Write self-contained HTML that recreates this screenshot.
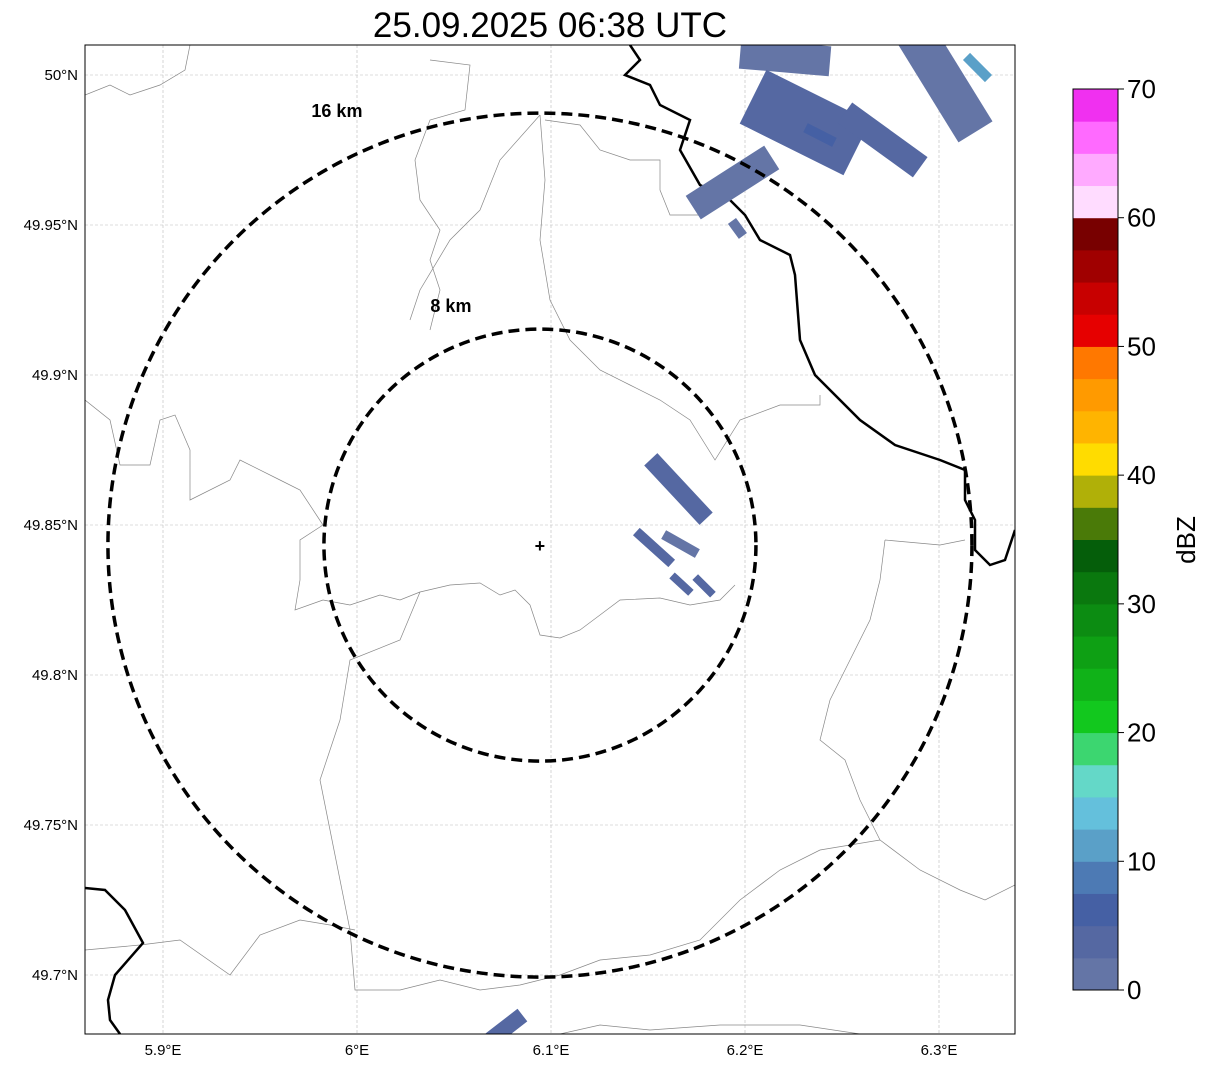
<!DOCTYPE html>
<html><head><meta charset="utf-8"><style>
body{margin:0;background:#fff;font-family:"Liberation Sans",sans-serif}
svg{display:block}
</style></head><body>
<svg id="chart" width="1207" height="1069" viewBox="0 0 1207 1069" xmlns="http://www.w3.org/2000/svg">
<rect width="1207" height="1069" fill="#fff"/>
<text x="550" y="37" font-size="35" text-anchor="middle">25.09.2025 06:38 UTC</text>
<defs><clipPath id="pc"><rect x="85" y="45" width="930" height="989"/></clipPath></defs>
<g id="grid"></g>
<g id="geo" clip-path="url(#pc)">
<polyline fill="none" stroke="#888" stroke-width="0.7" points="323,600 350,605 380,595 400,600 420,592 450,585 480,583 500,595 515,590 530,605 540,635 560,638 580,630 600,615 620,600 660,598 690,605 720,600 735,585"/>
<polyline fill="none" stroke="#888" stroke-width="0.7" points="540,115 545,180 540,240 550,300 570,340 600,370 630,385 660,400 690,420 715,460 740,420 780,405 820,405 820,395"/>
<polyline fill="none" stroke="#888" stroke-width="0.7" points="85,400 110,420 120,465 150,465 160,420 175,415 190,450 190,500 230,480 240,460 280,480 300,490 323,525"/>
<polyline fill="none" stroke="#888" stroke-width="0.7" points="323,525 300,540 300,580 295,610 323,600"/>
<polyline fill="none" stroke="#888" stroke-width="0.7" points="420,592 400,640 350,660 340,720 320,780 330,830 340,880 350,930 355,990 400,990 440,980 480,990 520,985 560,975 600,960 650,955 700,940 740,900 780,870 820,850 880,840 920,870 960,890 985,900 1015,885"/>
<polyline fill="none" stroke="#888" stroke-width="0.7" points="85,95 110,85 130,95 160,85 185,70 190,45"/>
<polyline fill="none" stroke="#888" stroke-width="0.7" points="430,60 470,65 465,110 430,120 415,160 420,200 440,230 430,260 440,290 430,330"/>
<polyline fill="none" stroke="#888" stroke-width="0.7" points="540,115 500,160 480,210 450,240 420,290 410,320"/>
<polyline fill="none" stroke="#888" stroke-width="0.7" points="85,950 140,945 180,940 230,975 260,935 300,920 330,925 355,930"/>
<polyline fill="none" stroke="#888" stroke-width="0.7" points="560,1034 600,1025 650,1030 720,1025 800,1025 860,1034"/>
<polyline fill="none" stroke="#888" stroke-width="0.7" points="885,540 880,580 870,620 850,660 830,700 820,740 845,760 860,800 880,840"/>
<polyline fill="none" stroke="#888" stroke-width="0.7" points="885,540 940,545 965,540"/>
<polyline fill="none" stroke="#888" stroke-width="0.7" points="545,120 580,125 600,150 630,160 660,160 660,190 670,215 700,215"/>
<polyline fill="none" stroke="#000" stroke-width="2.5" points="630,45 640,60 625,75 650,85 660,105 690,120 680,150 700,185 730,200 745,215 760,240 790,255 795,275 800,340 815,375 860,420 895,445 940,460 965,470 965,500 975,520 975,550 990,565 1005,560 1015,530"/>
<polyline fill="none" stroke="#000" stroke-width="2.5" points="85,888 105,890 125,910 143,943 115,975 108,1000 110,1020 120,1034"/>
</g>
<g id="echo" clip-path="url(#pc)"></g>
<g id="rings"></g>
<rect x="85" y="45" width="930" height="989" fill="none" stroke="#000" stroke-width="1"/>
<g id="axes"></g>
<g id="cbar"></g>
<text x="1195" y="540" font-size="26" text-anchor="middle" transform="rotate(-90 1195 540)">dBZ</text>
</svg>
<script>
const lonTicks=[5.9,6.0,6.1,6.2,6.3];
const lonLabels=["5.9°E","6°E","6.1°E","6.2°E","6.3°E"];
const latTicks=[50,49.95,49.9,49.85,49.8,49.75,49.7];
const latLabels=["50°N","49.95°N","49.9°N","49.85°N","49.8°N","49.75°N","49.7°N"];
const cbarColors=["#6475a6","#5568a2","#4560a4","#4d7ab4","#5aa0c8","#64c0dc","#64d8c8","#3cd670","#12c81e","#10b218","#0ea014","#0c8c12","#0a780e","#055e0a","#4a7a08","#b0b008","#ffdc00","#ffb400","#ff9a00","#ff7800","#e60000","#c80000","#a00000","#780000","#ffdcff","#ffaaff","#ff6aff","#f030f0"];
const cbarTicks=[0,10,20,30,40,50,60,70];
const ringKm=[8,16];
const center=[6.0943,49.8433];
// echo segments: lon1,lat1,lon2,lat2,width(px),dBZ
const echoLon1=[6.1546,6.1459,6.1603,6.1639,6.1758,6.2052,6.2180,6.2567,6.2077,6.1948,6.2928,6.3160,6.2335,6.0700];
const echoLat1=[49.8697,49.8467,49.8460,49.8323,49.8317,50.0067,49.9883,49.9850,49.9700,49.9500,50.0083,50.0050,49.9817,49.6790];
const echoLon2=[6.1768,6.1603,6.1732,6.1706,6.1820,6.2361,6.2438,6.2851,6.1794,6.1974,6.3134,6.3237,6.2438,6.0820];
const echoLat2=[49.8543,49.8383,49.8413,49.8283,49.8277,50.0050,49.9800,49.9717,49.9583,49.9477,49.9867,50.0000,49.9783,49.6850];
const echoW=[18,10,10,8,8,30,60,25,28,10,40,10,10,16];
const echoVal=[4,3,2,3,3,2,3,3,2,2,2,11,6,3];
const NS="http://www.w3.org/2000/svg";
const X=lon=>163+(lon-5.9)*1940;
const Y=lat=>75+(50-lat)*3000;
function mk(t,a,p){const e=document.createElementNS(NS,t);for(const k in a)e.setAttribute(k,a[k]);p.appendChild(e);return e;}
const grid=document.getElementById('grid'),axes=document.getElementById('axes');
lonTicks.forEach((v,i)=>{const x=X(v);
 const l=mk('line',{x1:x,x2:x,y1:45,y2:1034,stroke:'#bbb','stroke-width':0.6,'stroke-dasharray':'3,2'},grid);
 
 const t=mk('text',{x:x,y:1055,'font-size':15,'text-anchor':'middle'},axes);t.textContent=lonLabels[i];
 });
latTicks.forEach((v,i)=>{const y=Y(v);
 const l=mk('line',{x1:85,x2:1015,y1:y,y2:y,stroke:'#bbb','stroke-width':0.6,'stroke-dasharray':'3,2'},grid);
 
 const t=mk('text',{x:78,y:y+5,'font-size':15,'text-anchor':'end'},axes);t.textContent=latLabels[i];
 });
const echo=document.getElementById('echo');
const colorFor=v=>cbarColors[Math.max(0,Math.min(27,Math.floor(v/2.5)))];
echoVal.forEach((v,i)=>{
 const l=mk('line',{x1:X(echoLon1[i]),y1:Y(echoLat1[i]),x2:X(echoLon2[i]),y2:Y(echoLat2[i]),stroke:colorFor(v),'stroke-width':echoW[i],'stroke-linecap':'square'},echo);
 });
const rings=document.getElementById('rings');
const cx=X(center[0]),cy=Y(center[1]);
ringKm.forEach(km=>{const r=km*27;
 const c=mk('circle',{cx:cx,cy:cy,r:r,fill:'none',stroke:'#000','stroke-width':3.5,'stroke-dasharray':'11,6'},rings);
 
 const dx=km==16?-203:-89, dy=km==16?-428:-233;
 const t=mk('text',{x:cx+dx,y:cy+dy,'font-size':18,'font-weight':'bold','text-anchor':'middle'},rings);
 t.textContent=km+' km';});
const m=mk('text',{x:cx,y:cy+7,'font-size':18,'font-weight':'bold','text-anchor':'middle'},rings);m.textContent='+';

const cb=document.getElementById('cbar');
const CB=v=>990-v*(901/70);
cbarColors.forEach((c,i)=>{const y1=CB((i+1)*2.5),y0=CB(i*2.5);
 const r=mk('rect',{x:1073,y:y1,width:45,height:y0-y1+0.5,fill:c},cb);
 });
mk('rect',{x:1073,y:89,width:45,height:901,fill:'none',stroke:'#000','stroke-width':1},cb);
cbarTicks.forEach(v=>{const y=CB(v);
 mk('line',{x1:1118,x2:1124,y1:y,y2:y,stroke:'#000'},cb);
 const t=mk('text',{x:1127,y:y+9,'font-size':26},cb);t.textContent=v;
 });
</script>
</body></html>
